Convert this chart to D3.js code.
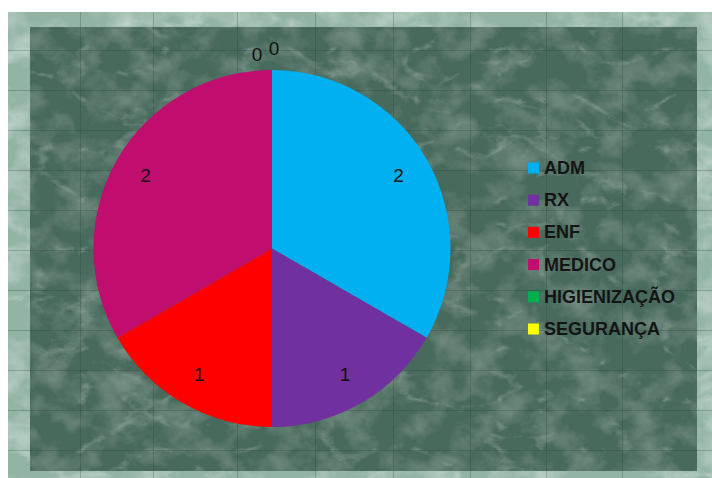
<!DOCTYPE html>
<html>
<head>
<meta charset="utf-8">
<script src="https://cdn.jsdelivr.net/npm/d3@7"></script>
<style>
  html, body { margin: 0; padding: 0; background: #ffffff; }
  svg { display: block; }
</style>
</head>
<body>
<svg id="chart" width="712" height="478"></svg>
<script>
// ---- data ----
const categories = ["ADM", "RX", "ENF", "MEDICO", "HIGIENIZAÇÃO", "SEGURANÇA"];
const values = [2, 1, 1, 2, 0, 0];
const colors = ["#00B0F0", "#7030A0", "#FF0000", "#C00D6E", "#00B050", "#FFFF00"];

// ---- layout ----
const svg = d3.select("#chart");
const defs = svg.append("defs");

// marble texture filter: soft mottling + faint veins
function marble(id, seed, col, mottleA, veinK, veinB) {
  const f = defs.append("filter").attr("id", id)
    .attr("x", 0).attr("y", 0).attr("width", "100%").attr("height", "100%");
  f.append("feTurbulence").attr("type", "fractalNoise")
    .attr("baseFrequency", "0.03 0.035").attr("numOctaves", 4).attr("seed", seed).attr("result", "n");
  f.append("feColorMatrix").attr("in", "n").attr("type", "matrix")
    .attr("values", `0 0 0 0 ${col[0]}  0 0 0 0 ${col[1]}  0 0 0 0 ${col[2]}  ${mottleA * 2} 0 0 0 ${-mottleA * 0.85}`)
    .attr("result", "mottle");
  f.append("feTurbulence").attr("type", "turbulence")
    .attr("baseFrequency", "0.012 0.02").attr("numOctaves", 5).attr("seed", seed + 5).attr("result", "t");
  f.append("feColorMatrix").attr("in", "t").attr("type", "matrix")
    .attr("values", `0 0 0 0 ${col[0]}  0 0 0 0 ${col[1]}  0 0 0 0 ${col[2]}  ${veinK} 0 0 0 ${veinB}`)
    .attr("result", "veins");
  f.append("feMerge").call(m => {
    m.append("feMergeNode").attr("in", "SourceGraphic");
    m.append("feMergeNode").attr("in", "mottle");
    m.append("feMergeNode").attr("in", "veins");
  });
}
marble("marbleDark", 7, [0.55, 0.68, 0.62], 0.25, -1.3, 0.22);
marble("marbleLight", 11, [0.82, 0.90, 0.86], 0.4, -1.3, 0.3);

const outer = { x0: 8, y0: 12, x1: 712, y1: 478 };
const inner = { x0: 30, y0: 27, x1: 697, y1: 471 };

svg.append("rect")
  .attr("x", outer.x0).attr("y", outer.y0)
  .attr("width", outer.x1 - outer.x0).attr("height", outer.y1 - outer.y0)
  .attr("fill", "#92b4a5").attr("filter", "url(#marbleLight)");

svg.append("rect")
  .attr("x", inner.x0).attr("y", inner.y0)
  .attr("width", inner.x1 - inner.x0).attr("height", inner.y1 - inner.y0)
  .attr("fill", "#476b5b").attr("filter", "url(#marbleDark)");

// spreadsheet grid lines
const hLines = [50, 90, 130, 170, 210, 250, 290, 330, 370, 410, 450];
const vLines = [80, 153, 237, 315, 393, 470, 546, 622];
const grid = svg.append("g").attr("stroke", "#1f3a2e").attr("stroke-opacity", 0.25).attr("stroke-width", 1);
grid.selectAll("line.h").data(hLines).join("line")
  .attr("x1", outer.x0).attr("x2", outer.x1).attr("y1", d => d + 0.5).attr("y2", d => d + 0.5);
grid.selectAll("line.v").data(vLines).join("line")
  .attr("y1", outer.y0).attr("y2", outer.y1).attr("x1", d => d + 0.5).attr("x2", d => d + 0.5);

// ---- pie ----
const cx = 272, cy = 248.5, R = 178.5;
const data = categories.map((c, i) => ({ cat: c, value: values[i], color: colors[i] }));
const pie = d3.pie().sort(null).value(d => d.value);
const arcs = pie(data);
const arc = d3.arc().innerRadius(0).outerRadius(R);
const labelArc = d3.arc().innerRadius(146).outerRadius(146);

const g = svg.append("g").attr("transform", `translate(${cx},${cy})`);
g.selectAll("path").data(arcs.filter(a => a.value > 0)).join("path")
  .attr("d", arc).attr("fill", d => d.data.color);

// value labels
const fontFam = "'Liberation Sans', Arial, sans-serif";
g.selectAll("text.val").data(arcs.filter(a => a.value > 0)).join("text")
  .attr("class", "val")
  .attr("transform", d => `translate(${labelArc.centroid(d)})`)
  .attr("text-anchor", "middle").attr("dominant-baseline", "central")
  .attr("font-family", fontFam).attr("font-size", 19).attr("fill", "#111")
  .text(d => d.value);

// zero-value labels stacked outside at the top
const zeroArcs = arcs.filter(a => a.value === 0);
const zeroArc = d3.arc().innerRadius(R + 13).outerRadius(R + 13);
g.selectAll("text.zero").data(zeroArcs).join("text")
  .attr("class", "zero")
  .attr("transform", (d, i) => {
    const [x, y] = zeroArc.centroid(d);
    return `translate(${x - 15 + i * 17},${y - 3 - i * 6})`;
  })
  .attr("text-anchor", "middle").attr("dominant-baseline", "central")
  .attr("font-family", fontFam).attr("font-size", 19).attr("fill", "#111")
  .text(d => d.value);

// ---- legend ----
const legendY = d3.scalePoint().domain(categories).range([168, 329]);
const lg = svg.append("g");
const rows = lg.selectAll("g").data(data).join("g")
  .attr("transform", d => `translate(528,${legendY(d.cat)})`);
rows.append("rect").attr("x", 0).attr("y", -5.5).attr("width", 11).attr("height", 11)
  .attr("fill", d => d.color);
rows.append("text").attr("x", 16).attr("y", 0)
  .attr("dominant-baseline", "central")
  .attr("font-family", fontFam).attr("font-size", 18).attr("font-weight", "bold")
  .attr("fill", "#141414")
  .text(d => d.cat);
</script>
</body>
</html>
